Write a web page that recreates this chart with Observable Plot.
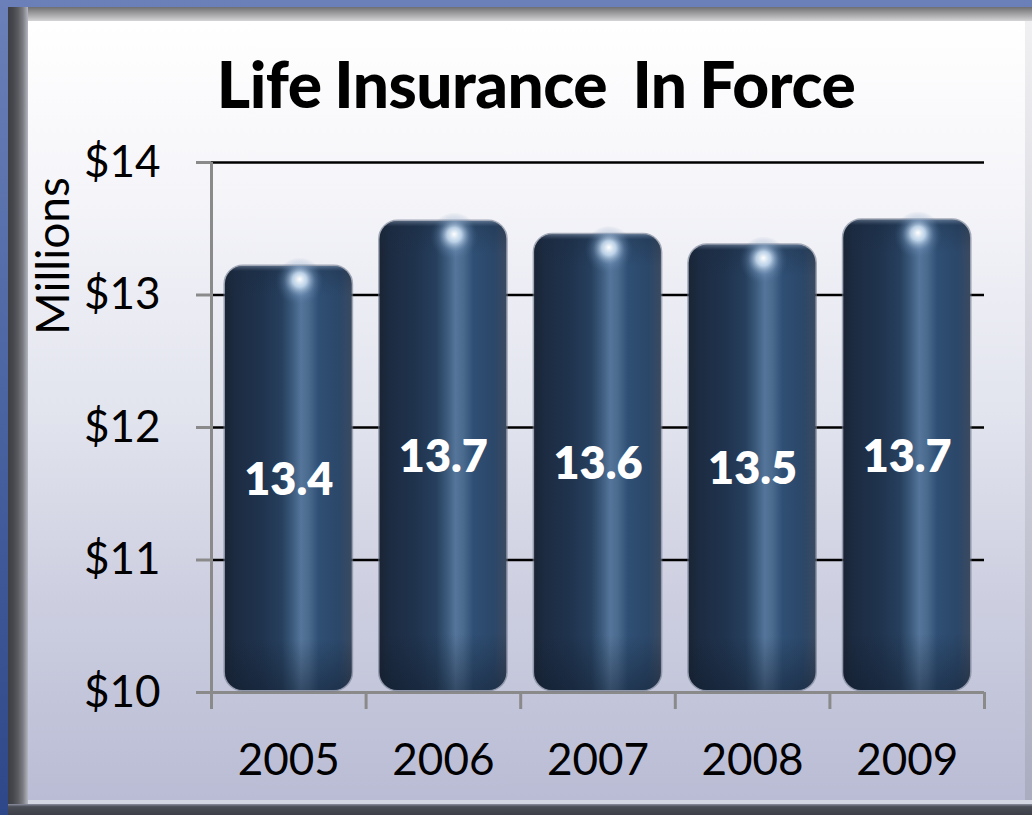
<!DOCTYPE html>
<html>
<head>
<meta charset="utf-8">
<script src="https://cdn.jsdelivr.net/npm/d3@7"></script>
<script src="https://cdn.jsdelivr.net/npm/@observablehq/plot@0.6"></script>
<style>
  html, body { margin: 0; padding: 0; }
  body { width: 1032px; height: 815px; overflow: hidden; font-family: Lato, "Open Sans", sans-serif; }
  #outer { position: absolute; left: 0; top: 0; width: 1032px; height: 815px;
    background: linear-gradient(180deg, #6b80b8 0%, #4a64a2 50%, #2d4788 100%); }
  #frameTop { position: absolute; left: 8px; top: 7px; width: 1024px; height: 14px;
    background: linear-gradient(180deg, #6e6e70 0%, #8e8e90 30%, #b0b0b2 65%, #d4d4d6 100%); }
  #frameLeft { position: absolute; left: 8px; top: 7px; width: 20px; height: 808px;
    background: linear-gradient(90deg, #3e3f44 0%, #46474c 25%, #5a5b60 50%, #7c7d84 75%, #b4b6c0 100%); }
  #frameBottom { position: absolute; left: 8px; top: 804px; width: 1024px; height: 11px;
    background: linear-gradient(180deg, #8c8fa0 0%, #4a4d55 25%, #3c3f47 100%); }
  #panel { position: absolute; left: 28px; top: 21px; width: 997px; height: 779px;
    background: linear-gradient(180deg, #ffffff 0%, #f6f6fa 20%, #e2e4ee 50%, #ccceE0 75%, #b9bcd4 100%); }
  #panelRight { position: absolute; left: 1025px; top: 21px; width: 7px; height: 783px;
    background: linear-gradient(180deg, #f0f0f2 0%, #c8c9d6 60%, #a9acbf 100%); }
  #panelBottomLine { position: absolute; left: 28px; top: 800px; width: 1004px; height: 4px;
    background: #d4d6e2; }
  #title { position: absolute; left: 0; top: 46px; width: 1072px; text-align: center;
    font-family: Lato, sans-serif; font-weight: 900; font-size: 64px; line-height: 76px; color: #000;
    letter-spacing: -0.5px; word-spacing: -2px; white-space: pre; }
  #ylabel { position: absolute; left: 52px; top: 256px; transform: translate(-50%, -50%) rotate(-90deg);
    font-family: Lato, sans-serif; font-size: 46px; color: #000; white-space: nowrap; line-height: 46px; }
  #chart { position: absolute; left: 0; top: 0; }
</style>
</head>
<body>
<div id="outer"></div>
<div id="frameTop"></div>
<div id="frameLeft"></div>
<div id="frameBottom"></div>
<div id="panel"></div>
<div id="panelRight"></div>
<div id="panelBottomLine"></div>
<div id="title">Life Insurance  In Force</div>
<div id="ylabel">Millions</div>
<div id="chart"></div>
<script>
// ---- data ----
const years = ["2005", "2006", "2007", "2008", "2009"];
const labels = ["13.4", "13.7", "13.6", "13.5", "13.7"];        // printed data labels
const barTops = [13.20, 13.54, 13.44, 13.36, 13.55];             // drawn bar heights (as seen)
const yTicks = [10, 11, 12, 13, 14];
const yTickLabels = ["$10", "$11", "$12", "$13", "$14"];
const gridValues = [11, 12, 13, 14];
const yBase = 10;

const rows = years.map((y, i) => ({year: y, i, label: labels[i], top: barTops[i]}));

const chart = Plot.plot({
  width: 1032,
  height: 815,
  marginLeft: 211,
  marginRight: 48,
  marginTop: 162,
  marginBottom: 123,
  style: {background: "transparent", fontFamily: "Lato, sans-serif", overflow: "visible"},
  x: {type: "linear", domain: [0, years.length], axis: null},
  y: {domain: [yBase, 14], axis: null},
  marks: [
    Plot.ruleY(gridValues, {stroke: "#000", strokeWidth: 2.6}),
    Plot.ruleY([yBase], {stroke: "#8a8a8a", strokeWidth: 3}),
    Plot.ruleX([0], {y1: yBase, y2: 14, stroke: "#8a8a8a", strokeWidth: 3}),
    Plot.axisY({
      ticks: yTicks, tickFormat: (d) => yTickLabels[yTicks.indexOf(d)],
      tickSize: 15, tickPadding: 36, stroke: "#8a8a8a", strokeWidth: 3,
      fontSize: 44, fill: "#000", label: null
    }),
    Plot.axisX({
      ticks: d3.range(0, years.length + 1), tickFormat: () => "",
      tickSize: 17, tickPadding: 0, stroke: "#8a8a8a", strokeWidth: 3, label: null
    }),
    Plot.text(rows, {x: (d) => d.i + 0.5, y: yBase, text: "year", dy: 68, fontSize: 44, fill: "#000"}),
    // bar halo
    Plot.rectY(rows, {x1: (d) => d.i + 0.09, x2: (d) => d.i + 0.91, y1: yBase, y2: "top",
      fill: "none", stroke: "#6f7a8c", strokeOpacity: 0.6, strokeWidth: 3, rx: 18, dy: -2}),
    // bars (cylinder)
    Plot.rectY(rows, {x1: (d) => d.i + 0.09, x2: (d) => d.i + 0.91, y1: yBase, y2: "top",
      fill: "url(#cyl)", rx: 18, dy: -2}),
    // end shading
    Plot.rectY(rows, {x1: (d) => d.i + 0.09, x2: (d) => d.i + 0.91, y1: yBase, y2: "top",
      fill: "url(#ends)", rx: 18, dy: -2}),
    // specular highlight
    Plot.dot(rows, {x: (d) => d.i + 0.57, y: "top", dy: 13, r: 24, fill: "url(#spec)", stroke: null}),
    // value labels
    Plot.text(rows, {x: (d) => d.i + 0.5, y: (d) => (d.top + yBase) / 2, text: "label",
      fontSize: 45, fontWeight: 800, fill: "#fff"})
  ]
});

const ns = "http://www.w3.org/2000/svg";
const defs = document.createElementNS(ns, "defs");
defs.innerHTML = `
  <linearGradient id="cyl" x1="0" y1="0" x2="1" y2="0">
    <stop offset="0" stop-color="#1a2535"/>
    <stop offset="0.08" stop-color="#1c2b41"/>
    <stop offset="0.3" stop-color="#20344f"/>
    <stop offset="0.45" stop-color="#27405e"/>
    <stop offset="0.53" stop-color="#3b5a7c"/>
    <stop offset="0.6" stop-color="#55759a"/>
    <stop offset="0.66" stop-color="#4a6a8e"/>
    <stop offset="0.74" stop-color="#2f4f74"/>
    <stop offset="0.9" stop-color="#2b4769"/>
    <stop offset="1" stop-color="#3a4a60"/>
  </linearGradient>
  <linearGradient id="ends" x1="0" y1="0" x2="0" y2="1">
    <stop offset="0" stop-color="#8a9ab0" stop-opacity="0.5"/>
    <stop offset="0.012" stop-color="#1a2a40" stop-opacity="0.3"/>
    <stop offset="0.07" stop-color="#1a2a40" stop-opacity="0"/>
    <stop offset="0.88" stop-color="#0f1a2a" stop-opacity="0"/>
    <stop offset="0.96" stop-color="#0f1a2a" stop-opacity="0.3"/>
    <stop offset="1" stop-color="#0f1a2a" stop-opacity="0.45"/>
  </linearGradient>
  <radialGradient id="spec" cx="0.5" cy="0.5" r="0.5" fx="0.5" fy="0.45">
    <stop offset="0" stop-color="#ffffff" stop-opacity="1"/>
    <stop offset="0.3" stop-color="#d8ecff" stop-opacity="0.8"/>
    <stop offset="0.65" stop-color="#7fa0c8" stop-opacity="0.3"/>
    <stop offset="1" stop-color="#4a6a90" stop-opacity="0"/>
  </radialGradient>`;
chart.insertBefore(defs, chart.firstChild);
document.getElementById("chart").appendChild(chart);
</script>
</body>
</html>
